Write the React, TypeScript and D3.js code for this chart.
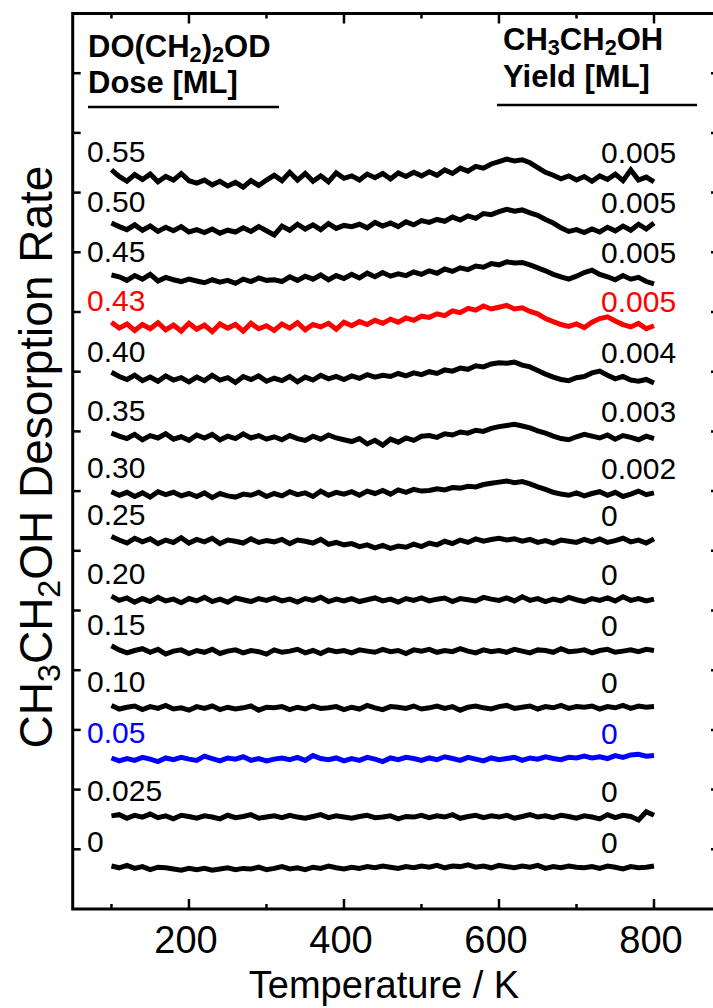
import React, { useEffect, useRef } from "react";
import * as d3 from "d3";

// sampling temperatures (K) of the TPD traces
const temps = d3.range(100, 801, 10);

// dose labels (bottom trace first) and ethanol yields
const doses = ["0", "0.025", "0.05", "0.10", "0.15", "0.20", "0.25", "0.30", "0.35", "0.40", "0.43", "0.45", "0.50", "0.55"];
const yields = ["0", "0", "0", "0", "0", "0", "0", "0.002", "0.003", "0.004", "0.005", "0.005", "0.005", "0.005"];
// vertical stacking offset of each trace (arb. units)
const offsets = [69, 154, 251, 337, 432, 518, 616, 695, 791, 889, 975, 1057, 1141, 1224];

// desorption signal (arb. units, 100 = one y tick)
const d000 = [3, 0, 4, -1, 2, -3, 1, 0, -2, -4, -1, -3, -1, -4, -2, 0, -3, -1, -2, 1, -3, -1, 2, -2, 0, -3, 1, -1, 3, 0, -2, 1, -1, 2, 0, 3, 1, -1, 2, 0, 3, 1, 4, 0, 3, 2, 5, 1, 3, 0, 4, 2, 0, 3, 1, 4, -1, 2, 0, 3, 1, 0, 2, -1, 3, 1, -2, 2, 0, 1, 3];
const d025 = [2, 4, -2, 3, 0, 5, -1, 2, -3, 3, 1, -2, 2, 0, -3, 3, -1, 1, 4, -2, 0, 2, -1, 3, 0, -2, 1, 4, -1, 2, 0, -2, 1, 3, -1, 0, 2, -3, 1, 0, 3, -1, 2, 0, 4, -2, 1, 3, -1, 2, 0, 3, -2, 1, 4, 0, 2, -1, 3, 1, -2, 2, 0, -3, 4, -1, 3, 1, -5, 9, 3];
const d05 = [2, -3, 1, -2, 3, 0, -4, 2, -1, 3, 0, -2, 5, 1, -3, 2, 0, 4, -2, 1, -3, 0, 2, -1, 3, -2, 6, 1, -1, 2, -3, 1, -2, 3, 0, -4, 2, -1, 3, 1, -2, 2, -1, 4, 1, -2, 3, 0, -3, 2, -1, 1, 3, -2, 2, 0, 4, 1, -1, 3, 2, 5, 2, 4, 1, 6, 3, 7, 8, 5, 6];
const d10 = [4, -2, 1, 3, -3, 2, -1, 4, -2, 0, -4, 2, -1, 3, -3, 1, -2, 0, 3, -4, 1, 0, 2, -3, 1, -2, 3, -1, 0, 2, -3, 1, -2, 4, 0, -3, 2, 1, -1, 3, -2, 0, 3, -1, 2, -4, 1, 3, 0, -2, 2, 4, -1, 1, 3, -2, 2, 0, 4, -1, 2, 1, 3, -2, 2, 0, 4, -1, 3, 1, 2];
const d15 = [9, 2, -3, 1, 4, -2, 3, -5, 0, 2, -4, 1, -2, 3, -4, 0, 2, -3, 1, -1, -5, 2, -2, 0, 3, -3, 1, -4, 2, -1, 1, -3, 2, 0, -2, 3, -1, 1, -4, 2, 0, 3, -2, 1, -1, 4, 0, -3, 2, -1, 1, -2, 3, 0, -3, 2, 1, -2, 4, -1, 0, 2, -3, 1, 3, -2, 0, 2, -1, 3, 1];
const d20 = [6, -1, 3, -4, 2, -3, 4, -2, 1, -5, 2, -2, 4, -3, 1, -4, 3, 0, -3, 2, -1, 3, -2, 1, -4, 2, -1, 4, -3, 1, -2, 2, -3, 0, 3, -2, 1, -4, 2, -1, 3, -2, 1, 3, -3, 2, 0, -2, 4, 1, -1, 3, -2, 5, -1, 2, -3, 1, -2, 4, 0, -3, 2, -1, 3, -2, 5, -1, 2, -2, 1];
const d25 = [8, 2, -3, 5, -1, 4, -4, 2, -2, 6, -3, 3, -1, 5, -4, 2, 0, -3, 4, -2, 1, -1, 3, -4, 2, 0, -3, 3, -5, -2, -6, -4, -9, -6, -11, -7, -12, -8, -10, -5, -9, -3, -6, 0, -4, 2, -2, 4, 0, 3, 5, 2, 4, 0, 3, -2, 1, -3, 2, 0, -2, 3, -1, 4, -2, 1, 5, -1, 2, -3, 4];
const d30 = [4, -2, 3, -4, 2, -5, 4, -1, 3, -3, 1, -4, 2, -6, 1, -3, -5, 0, -2, 3, -4, 1, -3, 4, -1, 2, -4, 5, -2, 3, 0, 4, -2, 5, 1, 6, 0, 7, 3, 8, 5, 6, 9, 7, 11, 10, 13, 12, 16, 18, 20, 22, 19, 21, 17, 12, 8, 3, 0, -2, 2, -3, 1, 4, -2, 3, -4, 0, 5, -1, 2];
const d35 = [6, 1, -3, 4, -5, 2, -2, 5, -4, 0, -6, 3, -2, 4, -5, 1, -3, 5, -2, 2, -4, 0, -5, 2, -3, -6, 1, -4, 3, -2, -5, -8, -3, -12, -6, -14, -4, -9, -2, -6, 1, 2, -1, 5, 3, 8, 6, 11, 9, 14, 17, 19, 21, 18, 15, 10, 6, 1, -3, -5, 0, 4, 1, -2, 3, -4, 2, -1, -5, 1, -3];
const d40 = [10, 3, -2, 5, -4, 2, -5, 4, -3, 1, -6, 2, -4, 5, -3, 1, -7, 3, -2, 4, -5, 0, -4, 3, -6, 2, -3, 5, -1, 3, -2, 4, 0, 6, 2, 5, 3, 8, 4, 9, 6, 11, 8, 14, 12, 17, 15, 21, 19, 24, 26, 25, 27, 22, 19, 13, 7, 2, -2, -4, 1, 3, 9, 12, 5, -1, 3, -3, -5, -2, -8];
const d43 = [8, -2, 5, -6, 4, -3, 7, -5, 3, -7, 6, -4, 3, -8, 5, -2, 4, -7, 6, -3, 2, -6, 5, -2, 7, -5, 4, 0, 6, -4, 8, 2, 9, 4, 11, 6, 13, 8, 15, 11, 18, 16, 22, 19, 27, 24, 31, 28, 35, 30, 33, 36, 30, 32, 26, 22, 14, 9, 4, 1, 5, -1, 8, 14, 17, 10, 4, 0, 6, -3, 2];
const d45 = [5, 2, -4, 4, -2, 6, -5, 1, -3, -6, -2, -5, -8, -3, -7, -4, -9, -2, -6, 0, -4, -3, -6, 2, -4, 3, -2, 5, -3, 4, -1, 6, 0, 8, 2, 9, 3, 7, 4, 10, 6, 12, 8, 15, 11, 17, 14, 20, 18, 24, 22, 27, 25, 26, 22, 17, 12, 6, 2, -2, 3, 9, 13, 6, 2, -3, 4, -2, 1, -6, -10];
const d50 = [8, 2, -3, 5, -4, 3, -6, 1, -5, 2, -7, -3, -8, -2, -9, -4, -7, 0, -6, 2, -5, -12, 3, -4, 6, -2, 5, -3, 7, -1, 4, 2, 6, 0, 9, 3, 8, 2, 10, 5, 12, 9, 14, 11, 18, 13, 20, 16, 24, 22, 27, 31, 28, 30, 25, 21, 14, 8, 0, -6, -3, -8, -2, -7, 1, -5, 3, -4, 6, -2, 8];
const d55 = [14, 3, -5, 6, -2, 7, -6, 3, -3, 8, -4, -8, -3, -11, -5, -13, -7, -15, -4, -12, -3, 5, -4, 10, -3, 8, -5, 4, -6, 9, 0, 4, -3, 7, 1, 8, -1, 9, 3, 10, 4, 11, 5, 14, 8, 17, 12, 20, 17, 24, 28, 32, 29, 31, 26, 18, 10, 5, -1, 4, -3, 3, -5, 4, -2, 7, -4, 14, -3, 2, -6, -3];
const traces = [d000, d025, d05, d10, d15, d20, d25, d30, d35, d40, d43, d45, d50, d55];

const traceColor = (i: number) => (i === 2 ? "#0000ff" : i === 10 ? "#ff0000" : "#000000");

const FONT = "'Liberation Sans', Arial, Helvetica, sans-serif";

// text with chemical subscripts: [text, isSub]
function chemText(sel: any, parts: [string, boolean][], size: number) {
    parts.forEach(([t, sub], i) => {
        const prevSub = i > 0 && parts[i - 1][1];
        let dy = 0;
        if (sub && !prevSub) dy = size * 0.17;
        if (!sub && prevSub) dy = -size * 0.17;
        sel.append("tspan").attr("dy", dy).attr("font-size", sub ? size * 0.7 : size).text(t);
    });
}

export default function App() {
    const ref = useRef<SVGSVGElement>(null);

    useEffect(() => {
        const W = 713;
        const H = 1008;
        const svg = d3.select(ref.current).attr("width", W).attr("height", H);
        svg.selectAll("*").remove();

        const x = d3.scaleLinear().domain([50, 880]).range([72.7, 716]);
        const y = d3.scaleLinear().domain([0, 1500]).range([909, 13.5]);
        const [x0, x1] = x.range();
        const [y0, y1] = y.range();

        // traces
        const line = d3
            .line<number>()
            .x((d, i) => x(temps[i]))
            .y(d => d);

        traces.forEach((tr, k) => {
            svg.append("path")
                .attr("d", line(tr.map(v => y(offsets[k] + v))))
                .attr("fill", "none")
                .attr("stroke", traceColor(k))
                .attr("stroke-width", 5)
                .attr("stroke-linejoin", "miter")
                .attr("stroke-miterlimit", 3);
        });

        // dose + yield labels
        const lab = svg.append("g").attr("font-family", FONT).attr("font-size", 30);
        doses.forEach((d, k) => {
            lab.append("text").attr("x", 87).attr("y", y(offsets[k]) - 16).attr("fill", traceColor(k)).text(d);
        });
        yields.forEach((d, k) => {
            lab.append("text").attr("x", 601).attr("y", y(offsets[k]) - 15).attr("fill", traceColor(k)).text(d);
        });

        // frame
        svg.append("rect")
            .attr("x", x0)
            .attr("y", y1)
            .attr("width", x1 - x0)
            .attr("height", y0 - y1)
            .attr("fill", "none")
            .attr("stroke", "#000")
            .attr("stroke-width", 3);

        // x ticks (inward), bottom and top
        const major = [200, 400, 600, 800];
        const minor = [100, 300, 500, 700];
        const tk = svg.append("g").attr("stroke", "#000").attr("stroke-width", 2.5);
        major.concat(minor).forEach(t => {
            const len = major.includes(t) ? 10 : 5;
            tk.append("line").attr("x1", x(t)).attr("x2", x(t)).attr("y1", y0).attr("y2", y0 - len);
            tk.append("line").attr("x1", x(t)).attr("x2", x(t)).attr("y1", y1).attr("y2", y1 + len);
        });
        d3.range(100, 1500, 100).forEach(v => {
            tk.append("line").attr("x1", x0).attr("x2", x0 + 8).attr("y1", y(v)).attr("y2", y(v));
            tk.append("line").attr("x1", x1).attr("x2", x1 - 5).attr("y1", y(v)).attr("y2", y(v));
        });

        const xl = svg.append("g").attr("font-family", FONT).attr("font-size", 38).attr("text-anchor", "middle");
        major.forEach(t => {
            xl.append("text").attr("x", x(t) - 3).attr("y", 953).text(t);
        });
        xl.append("text").attr("x", 384).attr("y", 998).text("Temperature / K");

        // y title
        const yt = svg
            .append("text")
            .attr("font-family", FONT)
            .attr("font-size", 46)
            .attr("text-anchor", "middle")
            .attr("transform", "translate(52,457) rotate(-90)");
        chemText(
            yt,
            [
                ["CH", false],
                ["3", true],
                ["CH", false],
                ["2", true],
                ["OH Desorption Rate", false],
            ],
            46
        );

        // column headers
        const hd = svg.append("g").attr("font-family", FONT).attr("font-weight", "bold");
        chemText(
            hd.append("text").attr("x", 88).attr("y", 57),
            [
                ["DO(CH", false],
                ["2", true],
                [")", false],
                ["2", true],
                ["OD", false],
            ],
            31
        );
        hd.append("text").attr("x", 88).attr("y", 93).attr("font-size", 31).text("Dose [ML]");
        chemText(
            hd.append("text").attr("x", 503).attr("y", 50),
            [
                ["CH", false],
                ["3", true],
                ["CH", false],
                ["2", true],
                ["OH", false],
            ],
            31
        );
        hd.append("text").attr("x", 503).attr("y", 87).attr("font-size", 31).text("Yield [ML]");
        hd.append("line").attr("x1", 88).attr("x2", 279).attr("y1", 107).attr("y2", 107).attr("stroke", "#000").attr("stroke-width", 2.5);
        hd.append("line").attr("x1", 497).attr("x2", 697).attr("y1", 105).attr("y2", 105).attr("stroke", "#000").attr("stroke-width", 2.5);
    }, []);

    return (
        <div style={{ position: "absolute", left: 0, top: 0 }}>
            <svg ref={ref} style={{ display: "block" }} />
        </div>
    );
}
